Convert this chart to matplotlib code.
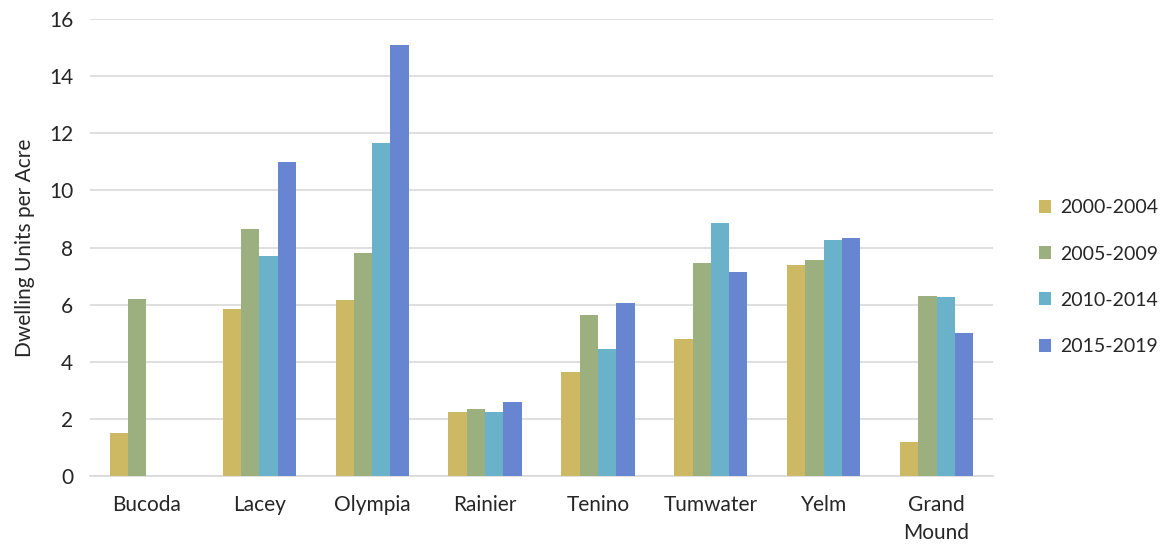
import numpy as np
import matplotlib.pyplot as plt

plt.rcParams['font.family'] = ['Lato', 'DejaVu Sans']

cities = ['Bucoda', 'Lacey', 'Olympia', 'Rainier', 'Tenino', 'Tumwater', 'Yelm', 'Grand\nMound']
periods = ['2000-2004', '2005-2009', '2010-2014', '2015-2019']
v2000 = [1.5, 5.85, 6.15, 2.25, 3.65, 4.8, 7.4, 1.2]
v2005 = [6.2, 8.65, 7.8, 2.35, 5.65, 7.45, 7.55, 6.3]
v2010 = [0, 7.7, 11.65, 2.25, 4.45, 8.85, 8.25, 6.25]
v2015 = [0, 11.0, 15.1, 2.6, 6.05, 7.15, 8.35, 5.0]
colors = ['#CDB864', '#9CB07F', '#6AB1CA', '#6785D0']

fig = plt.figure(figsize=(11.6, 5.45), dpi=100)
ax = fig.add_axes([90/1160, 1-476/545, 903/1160, 457/545])

x = np.arange(len(cities))
w = 0.162
for i, (vals, lab, c) in enumerate(zip([v2000, v2005, v2010, v2015], periods, colors)):
    ax.bar(x + (i - 1.5) * w, vals, w, color=c, label=lab, zorder=3)

ax.set_xlim(-0.5, len(cities) - 0.5)
ax.set_ylim(0, 16)
ax.set_yticks(range(0, 17, 2))
ax.set_xticks(x)
ax.set_xticklabels(cities, fontsize=15, color='#262626', linespacing=1.5)
ax.tick_params(axis='y', labelsize=15, labelcolor='#262626', length=0, pad=12)
ax.tick_params(axis='x', length=0, pad=14)
ax.grid(axis='y', color='#D9D9D9', linewidth=1.2, zorder=0)
for s in ['top', 'right', 'left']:
    ax.spines[s].set_visible(False)
ax.spines['bottom'].set_color('#D9D9D9')
ax.spines['bottom'].set_linewidth(1.2)
ax.set_ylabel('Dwelling Units per Acre', fontsize=15, color='#262626', labelpad=10)

ax.legend(loc='center left', bbox_to_anchor=(1.042, 0.435), frameon=False, fontsize=14,
          handlelength=0.65, handleheight=0.65, handletextpad=0.45, labelspacing=1.5,
          borderaxespad=0, labelcolor='#262626')

fig.savefig('out.png', dpi=100)
